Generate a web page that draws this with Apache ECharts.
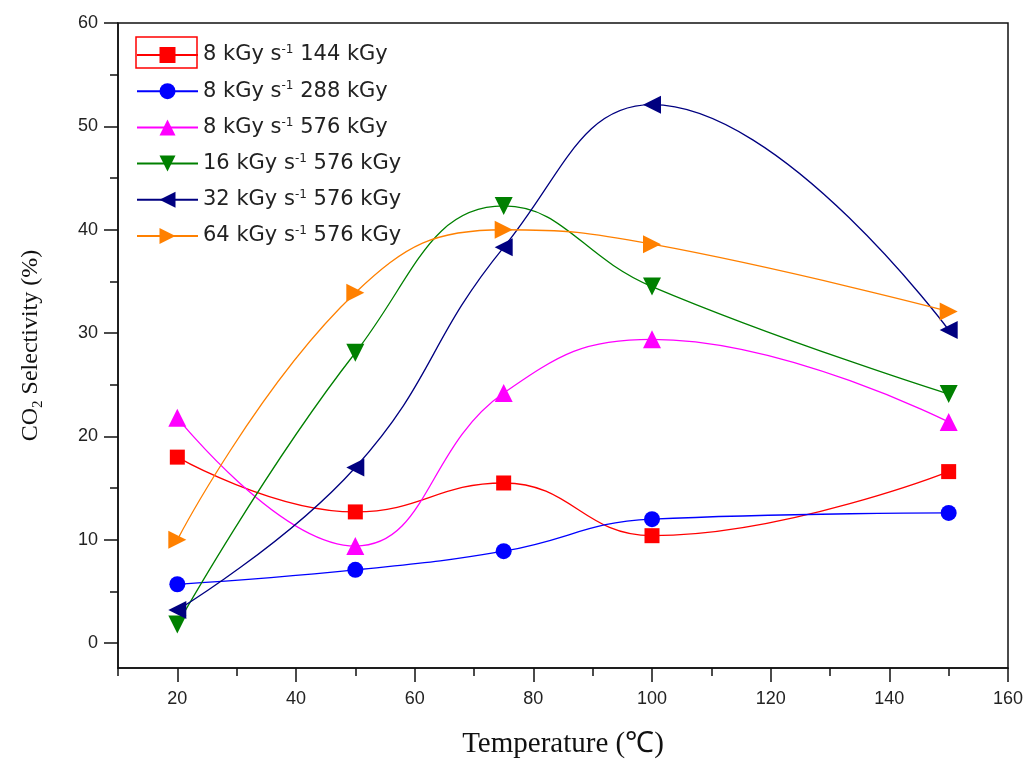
<!DOCTYPE html>
<html>
<head>
<meta charset="utf-8">
<script src="https://cdn.jsdelivr.net/npm/echarts@6/dist/echarts.min.js"></script>
<style>
html,body{margin:0;padding:0;background:#fff;}
#chart{width:1030px;height:765px;}
</style>
</head>
<body>
<div id="chart"></div>
<script>
// ---- data ----
const temperatures = [20, 50, 75, 100, 150];
const s8_144  = [18.0, 12.7, 15.5, 10.4, 16.6];
const s8_288  = [5.7, 7.1, 8.9, 12.0, 12.6];
const s8_576  = [21.8, 9.4, 24.2, 29.4, 21.4];
const s16_576 = [1.8, 28.1, 42.3, 34.5, 24.1];
const s32_576 = [3.2, 17.0, 38.3, 52.1, 30.3];
const s64_576 = [10.0, 33.9, 40.0, 38.6, 32.1];
const seriesNames = [
  '8 kGy s-1 144 kGy', '8 kGy s-1 288 kGy', '8 kGy s-1 576 kGy',
  '16 kGy s-1 576 kGy', '32 kGy s-1 576 kGy', '64 kGy s-1 576 kGy'
];
const xTicks = [20, 40, 60, 80, 100, 120, 140, 160];
const xMinorTicks = [10, 30, 50, 70, 90, 110, 130, 150];
const yTicks = [0, 10, 20, 30, 40, 50, 60];
const yMinorTicks = [5, 15, 25, 35, 45, 55];

// ---- styling ----
const colors = ['#ff0000', '#0000ff', '#ff00ff', '#008000', '#000080', '#ff8000'];
const symbols = ['rect', 'circle', 'triangle', 'triangle', 'triangle', 'triangle'];
const rotations = [0, 0, 0, 180, 90, -90];
const sizes = [15, 16, 18, 18, 18, 18];
const values = [s8_144, s8_288, s8_576, s16_576, s32_576, s64_576];

const axisColor = '#111';
const labelColor = '#222';

function pairs(arr) { return temperatures.map((t, i) => [t, arr[i]]); }

const series = values.map((v, i) => ({
  name: seriesNames[i],
  type: 'line',
  xAxisIndex: 0, yAxisIndex: 0,
  data: pairs(v),
  smooth: 0.45,
  symbol: symbols[i],
  symbolRotate: rotations[i],
  symbolSize: sizes[i],
  color: colors[i],
  itemStyle: { color: colors[i] },
  lineStyle: { color: colors[i], width: 1.3 },
  emphasis: { disabled: true },
  z: 3 + i
}));

const chart = echarts.init(document.getElementById('chart'), null, { renderer: 'canvas' });
chart.setOption({
  animation: false,
  backgroundColor: '#fff',
  grid: { left: 118, right: 22, top: 23, bottom: 97, show: true, borderColor: axisColor, borderWidth: 1.5, backgroundColor: 'transparent' },
  legend: {
    orient: 'vertical', left: 131, top: 39,
    itemWidth: 61, itemHeight: 20, itemGap: 14.2,
    data: seriesNames,
    formatter: name => name.replace('s-1', 's{sup|-1}'),
    textStyle: {
      fontFamily: 'DejaVu Sans', fontSize: 21, color: labelColor, lineHeight: 22,
      rich: { sup: { fontFamily: 'DejaVu Sans', fontSize: 12, verticalAlign: 'top', lineHeight: 22, color: labelColor } }
    }
  },
  xAxis: [{
    type: 'value', min: 10, max: 160, position: 'bottom',
    name: 'Temperature (℃)', nameLocation: 'middle', nameGap: 62,
    nameTextStyle: { fontFamily: 'Liberation Serif', fontSize: 29, color: '#111' },
    axisLine: { show: true, onZero: false, lineStyle: { color: axisColor, width: 1.5 } },
    axisTick: { show: true, customValues: xTicks, length: 14, lineStyle: { color: axisColor, width: 1.5 } },
    axisLabel: { customValues: xTicks, fontFamily: 'Liberation Sans', fontSize: 18, color: labelColor, margin: 22 },
    splitLine: { show: false }
  }, {
    type: 'value', min: 10, max: 160, position: 'bottom',
    axisLine: { show: false, onZero: false },
    axisTick: { show: true, customValues: xMinorTicks, length: 8, lineStyle: { color: axisColor, width: 1.5 } },
    axisLabel: { show: false },
    splitLine: { show: false }
  }],
  yAxis: [{
    type: 'value', min: -2.4, max: 60, position: 'left',
    name: '{a|CO}{sub|2}{a| Selectivity (%)}', nameLocation: 'middle', nameGap: 72, nameRotate: 90,
    nameTextStyle: {
      color: '#111',
      rich: {
        a: { fontFamily: 'Liberation Serif', fontSize: 24, color: '#111', lineHeight: 30 },
        sub: { fontFamily: 'Liberation Serif', fontSize: 15, color: '#111', verticalAlign: 'bottom', lineHeight: 30 }
      }
    },
    axisLine: { show: true, onZero: false, lineStyle: { color: axisColor, width: 1.5 } },
    axisTick: { show: true, customValues: yTicks, length: 14, lineStyle: { color: axisColor, width: 1.5 } },
    axisLabel: { customValues: yTicks, fontFamily: 'Liberation Sans', fontSize: 18, color: labelColor, margin: 20 },
    splitLine: { show: false }
  }, {
    type: 'value', min: -2.4, max: 60, position: 'left',
    axisLine: { show: false, onZero: false },
    axisTick: { show: true, customValues: yMinorTicks, length: 8, lineStyle: { color: axisColor, width: 1.5 } },
    axisLabel: { show: false },
    splitLine: { show: false }
  }],
  graphic: [{
    type: 'rect', z: 100,
    shape: { x: 136, y: 37, width: 61, height: 31 },
    style: { fill: null, stroke: '#ff0000', lineWidth: 1.5 }
  }],
  series: series
});
</script>
</body>
</html>
